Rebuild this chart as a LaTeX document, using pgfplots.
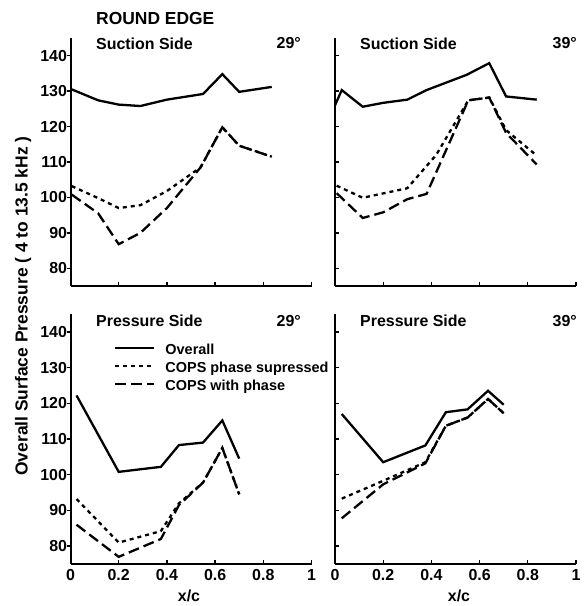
\documentclass[border=0pt]{standalone}
\usepackage{fontspec}
\setmainfont{Liberation Sans}
\usepackage{pgfplots}
\pgfplotsset{compat=1.18}
\pgfplotsset{
  panel/.style={
    scale only axis, width=241bp,
    xmin=0, xmax=1, ymin=75, ymax=145,
    axis x line=bottom, axis y line=left,
    axis line style={-, line width=2bp},
    xtick={0,0.2,0.4,0.6,0.8,1},
    ytick={80,90,100,110,120,130,140},
    tick align=inside, major tick length=4bp,
    tick style={line width=1.3bp, black},
    /pgf/number format/assume math mode=true,
    ticklabel style={font=\fontsize{16}{16}\selectfont\bfseries},
    xticklabel style={yshift=-2bp},
    clip=false,
  },
  ov/.style={black, line width=2.3bp},
  ps/.style={black, line width=2.3bp, dash pattern=on 4bp off 4bp},
  wp/.style={black, line width=2.3bp, dash pattern=on 11bp off 5bp},
}
\begin{document}
\begin{tikzpicture}
\path[use as bounding box] (0,0) rectangle (584bp,606bp);
% top-left
\begin{axis}[panel, height=248bp, at={(70.5bp,320bp)}, anchor=south west,
  xticklabels={}, ytick style={xshift=-4bp}]
\addplot[ov] coordinates {(0.005,130.5) (0.115,127.4) (0.2,126.2) (0.29,125.8) (0.4,127.6) (0.55,129.2) (0.63,134.8) (0.7,129.8) (0.835,131.2)};
\addplot[ps] coordinates {(0.005,103.2) (0.115,99.8) (0.2,97) (0.29,97.8) (0.4,101.8) (0.54,108.5) (0.63,119.8) (0.7,114.6) (0.835,111.5)};
\addplot[wp] coordinates {(0.005,100.8) (0.115,95.5) (0.2,86.8) (0.29,90) (0.4,97) (0.54,108.5) (0.63,119.8) (0.7,114.6) (0.835,111.5)};
\end{axis}
% top-right
\begin{axis}[panel, height=248bp, at={(335bp,320bp)}, anchor=south west,
  xticklabels={}, yticklabels={}]
\addplot[ov] coordinates {(0.0,126) (0.028,130.3) (0.115,125.6) (0.2,126.7) (0.3,127.6) (0.38,130.3) (0.546,134.6) (0.64,137.9) (0.71,128.5) (0.837,127.6)};
\addplot[ps] coordinates {(0.007,103.3) (0.115,99.9) (0.3,102.6) (0.42,112) (0.553,127.4) (0.64,128.2) (0.71,119) (0.837,111.8)};
\addplot[wp] coordinates {(0.007,101.2) (0.115,94.2) (0.2,95.8) (0.3,99.5) (0.38,101) (0.553,127.4) (0.64,128.2) (0.71,118.2) (0.837,109.3)};
\end{axis}
% bottom-left
\begin{axis}[panel, height=250bp, at={(70.5bp,42bp)}, anchor=south west,
  xticklabels={0,0.2,0.4,0.6,0.8,1}, ytick style={xshift=-4bp},
  legend cell align=left,
  legend style={draw=none, fill=none, at={(axis cs:0.168,137.4)}, anchor=north west,
    font=\fontsize{14.5}{14.5}\selectfont\bfseries, row sep=0pt,
    nodes={inner sep=0pt, text height=11bp, text depth=7bp}},
  legend image code/.code={\draw[#1] (0bp,4bp) -- (39bp,4bp);},
  legend columns=1,
  ]
\addplot[ov] coordinates {(0.025,122.2) (0.2,100.8) (0.375,102.2) (0.45,108.3) (0.55,109) (0.63,115.2) (0.7,104.5)};
\addlegendentry{\hspace{10bp}Overall}
\addplot[ps] coordinates {(0.025,93.2) (0.2,81) (0.375,84.2) (0.45,92) (0.55,97.8) (0.63,107.5) (0.7,94.5)};
\addlegendentry{\hspace{10bp}COPS phase supressed}
\addplot[wp] coordinates {(0.025,86) (0.2,77) (0.375,82) (0.45,91.5) (0.55,97.8) (0.63,107.5) (0.7,94.5)};
\addlegendentry{\hspace{10bp}COPS with phase}
\end{axis}
% bottom-right
\begin{axis}[panel, height=250bp, at={(335bp,42bp)}, anchor=south west,
  xticklabels={0,0.2,0.4,0.6,0.8,1}, yticklabels={}]
\addplot[ov] coordinates {(0.028,117) (0.2,103.5) (0.375,108.2) (0.46,117.5) (0.55,118.3) (0.635,123.5) (0.7,119.6)};
\addplot[ps] coordinates {(0.028,93.3) (0.2,98.3) (0.375,103.5) (0.46,113.7) (0.55,116) (0.635,121.2) (0.7,117.2)};
\addplot[wp] coordinates {(0.028,87.8) (0.2,97.3) (0.375,103.2) (0.46,113.7) (0.55,116) (0.635,121.2) (0.7,117.2)};
\end{axis}
% texts
\begin{scope}[every node/.style={inner sep=0pt, font=\fontsize{16}{16}\selectfont\bfseries}]
\node[anchor=west, font=\fontsize{17.5}{17.5}\selectfont\bfseries] at (96bp,606bp-18.5bp) {ROUND EDGE};
\node[anchor=west] at (96bp,606bp-43.5bp) {Suction Side};
\node[anchor=east] at (301bp,606bp-43.5bp) {29°};
\node[anchor=west] at (360bp,606bp-43.5bp) {Suction Side};
\node[anchor=east] at (577bp,606bp-43.5bp) {39°};
\node[anchor=west] at (96bp,606bp-321bp) {Pressure Side};
\node[anchor=east] at (301bp,606bp-321bp) {29°};
\node[anchor=west] at (360bp,606bp-321bp) {Pressure Side};
\node[anchor=east] at (577bp,606bp-321bp) {39°};
\node at (189bp,606bp-596bp) {x/c};
\node at (459bp,606bp-596bp) {x/c};
\node[rotate=90, font=\fontsize{17.5}{17.5}\selectfont\bfseries] at (23bp,606bp-306bp) {Overall Surface Pressure ( 4 to 13.5 kHz )};
\end{scope}
\end{tikzpicture}
\end{document}
